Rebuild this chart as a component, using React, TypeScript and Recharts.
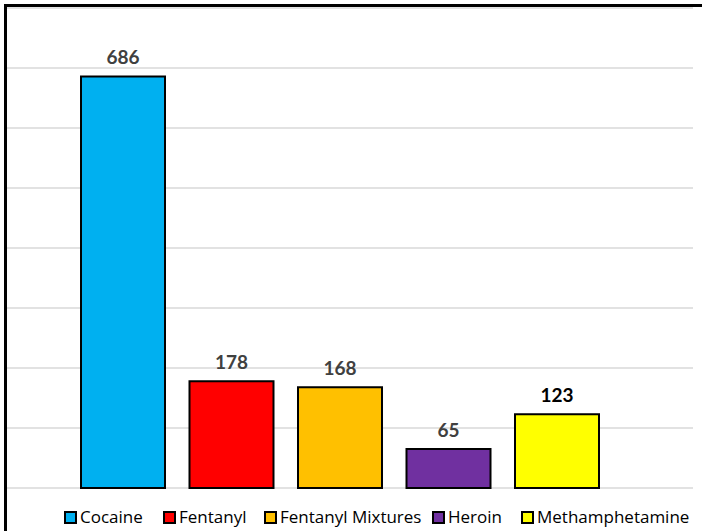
import React from "react";
import { BarChart, Bar, XAxis, YAxis, CartesianGrid, Legend, LabelList } from "recharts";

const SERIES = ["Cocaine", "Fentanyl", "Fentanyl Mixtures", "Heroin", "Methamphetamine"];
const VALUES = [686, 178, 168, 65, 123];
const COLORS = ["#00B0F0", "#FF0000", "#FFC000", "#7030A0", "#FFFF00"];
const LABEL_COLORS = ["#404040", "#404040", "#404040", "#404040", "#000000"];
const Y_TICKS = [0, 100, 200, 300, 400, 500, 600, 700, 800];
// legend item left edges
const LEGEND_X = [64, 163, 264, 432, 521];

const chartData = [
  SERIES.reduce((row, s, i) => ({ ...row, [s]: VALUES[i] }), { cat: "all" } as Record<string, string | number>),
];

const FONT = "Lato, 'Open Sans', sans-serif";
const LEGEND_FONT = "'Open Sans', Lato, sans-serif";

function renderLegend() {
  return (
    <div style={{ position: "relative", width: 702, height: 41, fontFamily: LEGEND_FONT, fontSize: 17, color: "#000" }}>
      {SERIES.map((s, i) => (
        <div
          key={s}
          style={{ position: "absolute", left: LEGEND_X[i], top: 18, display: "flex", alignItems: "center", whiteSpace: "nowrap", lineHeight: "22px" }}
        >
          <span
            style={{ display: "inline-block", width: 9, height: 9, border: "2px solid #000", background: COLORS[i], marginRight: 3 }}
          />
          <span>{s}</span>
        </div>
      ))}
    </div>
  );
}

export default function App() {
  return (
    <div style={{ position: "absolute", left: 0, top: 0, width: 702, height: 531, background: "#fff" }}>
      <BarChart
        width={702}
        height={531}
        data={chartData}
        margin={{ top: 8, right: 9, left: 7, bottom: 2 }}
        barGap={24.5}
      >
        <CartesianGrid vertical={false} stroke="#d9d9d9" strokeWidth={1.5} />
        <XAxis dataKey="cat" hide padding={{ left: 0, right: 20 }} />
        <YAxis hide domain={[0, 800]} ticks={Y_TICKS} />
        <Legend verticalAlign="bottom" height={41} content={renderLegend} wrapperStyle={{ left: 0, width: 702 }} />
        {SERIES.map((s, i) => (
          <Bar key={s} dataKey={s} fill={COLORS[i]} stroke="#000" strokeWidth={2} barSize={84} isAnimationActive={false}>
            <LabelList
              dataKey={s}
              position="top"
              offset={12}
              fill={LABEL_COLORS[i]}
              style={{ fontFamily: FONT, fontSize: 19, fontWeight: 700 }}
            />
          </Bar>
        ))}
      </BarChart>
      <div style={{ position: "absolute", left: 4, top: 4, width: 698, height: 527, borderTop: "3px solid #000", borderLeft: "3px solid #000", boxSizing: "border-box", pointerEvents: "none" }} />
    </div>
  );
}
